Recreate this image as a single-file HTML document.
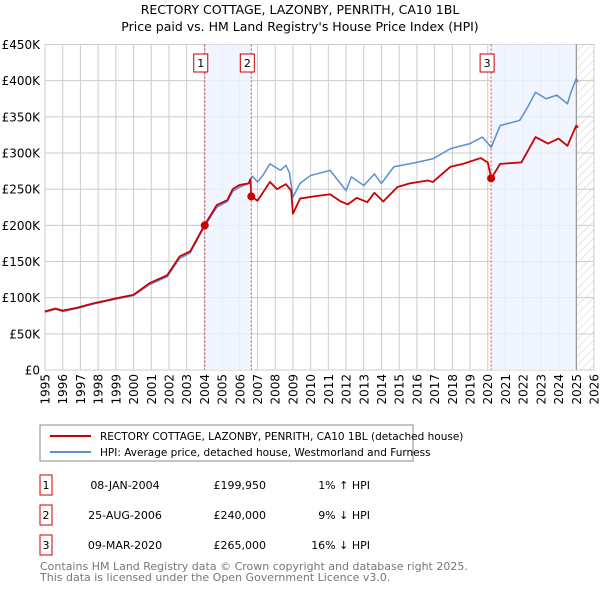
<!DOCTYPE html>
<html><head><meta charset="utf-8"><style>
body{margin:0;background:#fff;font-family:"Liberation Sans","DejaVu Sans",sans-serif;}
#wrap{position:relative;width:600px;height:590px;overflow:hidden}
</style></head><body>
<div id="wrap">
<svg id="chart" width="600" height="590" style="position:absolute;left:0;top:0;font-family:'DejaVu Sans','Liberation Sans',sans-serif">
<defs><pattern id="hatch" patternUnits="userSpaceOnUse" width="6" height="6" patternTransform="rotate(45)"><line x1="0" y1="0" x2="0" y2="6" stroke="#ccc" stroke-width="1"/></pattern></defs>
<text x="300" y="14" text-anchor="middle" font-size="12.5" fill="#000">RECTORY COTTAGE, LAZONBY, PENRITH, CA10 1BL</text>
<text x="300" y="31" text-anchor="middle" font-size="12.5" fill="#000">Price paid vs. HM Land Registry's House Price Index (HPI)</text>
<g id="grid"></g><g id="shade"></g><g id="series"></g><g id="marks"></g><g id="axes"></g>
<rect x="40" y="425" width="373" height="36" fill="#fff" stroke="#888"/>
<line x1="50" y1="436" x2="91" y2="436" stroke="#cc0000" stroke-width="2"/>
<text x="100" y="440" font-size="10.5">RECTORY COTTAGE, LAZONBY, PENRITH, CA10 1BL (detached house)</text>
<line x1="50" y1="452" x2="91" y2="452" stroke="#5b8fd4" stroke-width="2"/>
<text x="100" y="456" font-size="10.5">HPI: Average price, detached house, Westmorland and Furness</text>
<g id="table" font-size="11"></g>
<text x="40" y="570" font-size="11" fill="#777">Contains HM Land Registry data © Crown copyright and database right 2025.</text>
<text x="40" y="581" font-size="11" fill="#777">This data is licensed under the Open Government Licence v3.0.</text>
</svg>
</div>
<script>
const hpiYears=[1995.0,1995.6,1996.0,1996.8,1997.7,1999.0,2000.0,2000.9,2001.9,2002.6,2003.2,2004.0,2004.7,2005.3,2005.6,2006.0,2006.5,2006.7,2007.0,2007.3,2007.7,2008.3,2008.6,2008.8,2009.0,2009.4,2010.0,2011.1,2012.0,2012.3,2013.0,2013.6,2014.0,2014.7,2016.0,2016.9,2017.9,2019.0,2019.7,2020.2,2020.7,2021.8,2022.2,2022.7,2023.3,2023.9,2024.5,2024.7,2025.0,2025.1];
const hpiValues=[80,84,81,85,91,98,103,118,129,154,162,198,225,233,247,253,258,268,260,269,285,276,283,273,239,258,269,276,248,267,255,271,258,281,287,292,306,313,322,308,338,345,361,384,375,380,368,384,403,398];
const priceYears=[1995.0,1995.6,1996.0,1996.8,1997.7,1999.0,2000.0,2000.9,2001.9,2002.6,2003.2,2004.0,2004.7,2005.3,2005.6,2006.0,2006.5,2006.6,2006.65,2007.0,2007.7,2008.1,2008.6,2008.9,2009.0,2009.4,2010.2,2011.1,2011.7,2012.1,2012.6,2013.2,2013.6,2014.1,2014.9,2015.6,2016.6,2016.9,2017.9,2018.6,2019.6,2020.0,2020.2,2020.7,2021.9,2022.7,2023.4,2024.0,2024.5,2025.0,2025.1];
const priceValues=[81,85,82,86,92,99,104,120,131,157,164,200,228,235,250,256,258,264,240,234,260,250,257,248,216,237,240,243,233,229,238,232,245,233,253,258,262,260,281,285,293,287,265,285,287,322,313,320,310,338,335];
const saleLabels=["1","2","3"];
const saleYears=[2004.02,2006.65,2020.19];
const salePrices=[199950,240000,265000];
const saleDates=["08-JAN-2004","25-AUG-2006","09-MAR-2020"];
const salePriceText=["£199,950","£240,000","£265,000"];
const saleHpiText=["1% ↑ HPI","9% ↓ HPI","16% ↓ HPI"];
const yTicks=[0,50,100,150,200,250,300,350,400,450];
const yTickLabels=["£0","£50K","£100K","£150K","£200K","£250K","£300K","£350K","£400K","£450K"];
const xTicks=[1995,1996,1997,1998,1999,2000,2001,2002,2003,2004,2005,2006,2007,2008,2009,2010,2011,2012,2013,2014,2015,2016,2017,2018,2019,2020,2021,2022,2023,2024,2025,2026];

const X0=45,X1=594,Y0=370,Y1=44.5;
const xs=y=>X0+(y-1995)/(2026-1995)*(X1-X0);
const ys=v=>Y0-v/450*(Y0-Y1);
const NS="http://www.w3.org/2000/svg";
function mk(tag,attrs,parent){const e=document.createElementNS(NS,tag);for(const k in attrs)e.setAttribute(k,attrs[k]);parent.appendChild(e);return e;}
const grid=document.getElementById('grid'),shade=document.getElementById('shade'),series=document.getElementById('series'),marks=document.getElementById('marks'),axes=document.getElementById('axes'),table=document.getElementById('table');

yTicks.forEach((t,i)=>{
 const l=mk('line',{x1:X0,x2:X1,y1:ys(t),y2:ys(t),stroke:'#ccc','stroke-width':1},grid);
 
 
 const tx=mk('text',{x:40,y:ys(t)+4.5,'text-anchor':'end','font-size':12},axes);
 tx.textContent=yTickLabels[i];
 
 
});
xTicks.forEach(t=>{
 const l=mk('line',{x1:xs(t),x2:xs(t),y1:Y1,y2:Y0,stroke:'#ccc','stroke-width':1},grid);
 
 
 const tx=mk('text',{x:0,y:0,'text-anchor':'end','font-size':12,transform:`translate(${xs(t)+4.5},${Y0+4}) rotate(-90)`},axes);
 tx.textContent=t;
 
 
});
const s1=mk('rect',{x:xs(saleYears[0]),y:Y1,width:xs(saleYears[1])-xs(saleYears[0]),height:Y0-Y1,fill:'#eef3fc',opacity:0.8},shade);


const s2=mk('rect',{x:xs(saleYears[2]),y:Y1,width:xs(2025.0)-xs(saleYears[2]),height:Y0-Y1,fill:'#eef3fc',opacity:0.8},shade);


const hz=mk('rect',{x:xs(2025.0),y:Y1,width:X1-xs(2025.0),height:Y0-Y1,fill:'url(#hatch)'},shade);


const fl=mk('line',{x1:xs(2025.0),x2:xs(2025.0),y1:Y1,y2:Y0,stroke:'#888','stroke-width':1},shade);


const border=mk('rect',{x:X0,y:Y1,width:X1-X0,height:Y0-Y1,fill:'none',stroke:'#ccc'},grid);



const hp=mk('polyline',{points:hpiYears.map((y,i)=>xs(y)+','+ys(hpiValues[i])).join(' '),fill:'none',stroke:'#5b8fd4','stroke-width':1.5,'stroke-linejoin':'round'},series);


const pp=mk('polyline',{points:priceYears.map((y,i)=>xs(y)+','+ys(priceValues[i])).join(' '),fill:'none',stroke:'#cc0000','stroke-width':1.8,'stroke-linejoin':'round'},series);



saleYears.forEach((y,i)=>{
 const x=xs(y);
 const vl=mk('line',{x1:x,x2:x,y1:Y1,y2:Y0,stroke:'#e04040','stroke-width':1,'stroke-dasharray':'2,2'},marks);
 
 
 const dot=mk('circle',{cx:x,cy:ys(salePrices[i]/1000),r:4,fill:'#cc0000'},marks);
 
 
 const bx=mk('rect',{x:x-11,y:54,width:14,height:18,fill:'#fff',stroke:'#cc0000'},marks);
 
 
 const bt=mk('text',{x:x-4,y:67,'text-anchor':'middle','font-size':11},marks);
 bt.textContent=saleLabels[i];
 
 
 const ry=485+i*30;
 const tb=mk('rect',{x:40,y:ry-10,width:12,height:20,fill:'#fff',stroke:'#cc0000'},table);
 
 
 const t1=mk('text',{x:46,y:ry+4,'text-anchor':'middle'},table);t1.textContent=saleLabels[i];
 
 
 const t2=mk('text',{x:125,y:ry+4,'text-anchor':'middle'},table);t2.textContent=saleDates[i];
 
 
 const t3=mk('text',{x:266,y:ry+4,'text-anchor':'end'},table);t3.textContent=salePriceText[i];
 
 
 const t4=mk('text',{x:370,y:ry+4,'text-anchor':'end'},table);t4.textContent=saleHpiText[i];
 
 
});
</script>
</body></html>
